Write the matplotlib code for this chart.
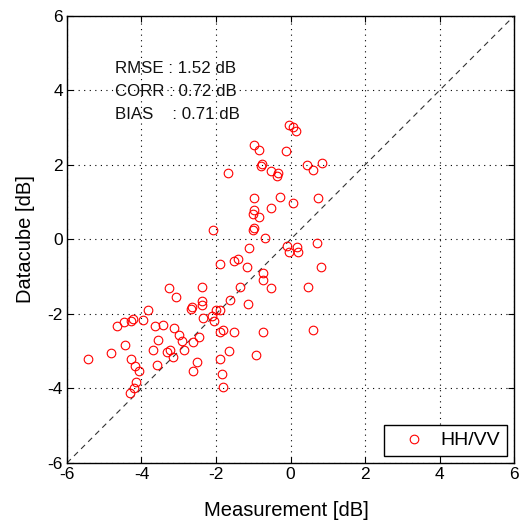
import matplotlib
matplotlib.use("Agg")
import matplotlib.pyplot as plt
import numpy as np

plt.rcParams['font.family'] = ['Liberation Sans', 'DejaVu Sans']
plt.rcParams['axes.unicode_minus'] = False

# Measured vs. modelled backscatter ratio (HH/VV) in dB
measurement = [
    -0.04, 0.07, 0.15, -0.97, -0.85, -0.12, -0.77, -0.80, -1.69, -0.53,
    -0.33, -0.35, 0.44, 0.60, 0.84, -0.99, -0.27, 0.06, 0.75, -0.53,
    -0.97, -1.00, -0.84, -2.07, -0.97, -1.00, -0.68, -1.11, -0.10, -0.03,
    0.17, 0.21, 0.70, 0.82, 0.48, 0.60, -1.88, -1.51, -1.42, -1.18,
    -0.73, -0.73, -0.53, -3.25, -3.06, -2.38, -2.38, -2.38, -2.65, -2.68,
    -2.36, -1.36, -1.62, -1.15, -3.82, -2.10, -2.01, -1.89, -2.05, -4.24,
    -3.97, -4.28, -4.46, -4.65, -3.64, -3.43, -3.13, -2.99, -2.90, -2.85,
    -2.45, -2.61, -3.55, -3.70, -3.31, -3.23, -3.16, -4.43, -4.83, -5.44,
    -4.29, -4.18, -4.06, -4.14, -4.21, -4.30, -3.58, -2.50, -2.61, -1.88,
    -1.84, -1.80, -1.88, -1.80, -1.51, -1.64, -0.93, -0.73,
]
datacube = [
    3.07, 3.02, 2.90, 2.54, 2.40, 2.37, 2.03, 1.97, 1.79, 1.84,
    1.79, 1.69, 1.99, 1.87, 2.04, 1.12, 1.13, 0.99, 1.10, 0.85,
    0.79, 0.68, 0.61, 0.25, 0.30, 0.26, 0.05, -0.22, -0.17, -0.35,
    -0.21, -0.35, -0.10, -0.73, -1.27, -2.43, -0.66, -0.57, -0.52, -0.73,
    -0.89, -1.09, -1.31, -1.31, -1.54, -1.27, -1.65, -1.76, -1.80, -1.87,
    -2.10, -1.27, -1.62, -1.74, -1.89, -2.05, -1.89, -1.89, -2.18, -2.14,
    -2.16, -2.20, -2.22, -2.32, -2.32, -2.30, -2.38, -2.56, -2.72, -2.97,
    -2.61, -2.74, -2.70, -2.97, -3.01, -2.97, -3.15, -2.83, -3.05, -3.21,
    -3.21, -3.40, -3.52, -3.82, -4.00, -4.13, -3.37, -3.28, -3.52, -3.21,
    -3.61, -3.95, -2.48, -2.43, -2.48, -2.99, -3.10, -2.48,
]
ticks = [-6, -4, -2, 0, 2, 4, 6]
stats_lines = ["RMSE : 1.52 dB", "CORR : 0.72 dB", "BIAS    : 0.71 dB"]
series_label = "HH/VV"

fig = plt.figure(figsize=(5.23, 5.23), dpi=100)
ax = fig.add_axes([0.128, 0.1147, 0.855, 0.855])

# 1:1 reference line
ax.plot([-6, 6], [-6, 6], color='#333333', lw=0.8, dashes=(5, 4), zorder=1)

ax.plot(measurement, datacube, linestyle='none', marker='o', markersize=6.2,
        markerfacecolor='none', markeredgecolor='#ff0000', markeredgewidth=0.8,
        label=series_label, zorder=3)

ax.set_xlim(-6, 6)
ax.set_ylim(-6, 6)
ax.set_xticks(ticks)
ax.set_yticks(ticks)

ax.grid(True, color='black', lw=0.8, linestyle=(0, (1, 4)))
ax.set_axisbelow(True)

ax.tick_params(direction='in', length=4, width=0.8, top=True, right=True,
               labelsize=12.5, pad=3)
for s in ax.spines.values():
    s.set_linewidth(1.0)
    s.set_color('black')

ax.set_xlabel("Measurement [dB]", fontsize=14.5)
ax.set_ylabel("Datacube [dB]", fontsize=14.5)
ax.xaxis.set_label_coords(0.49, -0.085)
ax.yaxis.set_label_coords(-0.072, 0.5)

for txt, yv in zip(stats_lines, [4.6, 3.97, 3.34]):
    ax.text(-4.71, yv, txt, fontsize=12.2, va='center', ha='left', color='#111111')

leg = ax.legend(loc='lower right', fontsize=14, frameon=True, fancybox=False,
                edgecolor='black', framealpha=1, borderaxespad=0.35,
                handlelength=2.4, handletextpad=0.2, borderpad=0.35,
                markerscale=1.0)
leg.get_frame().set_linewidth(1.0)

fig.savefig("out.png", dpi=100)
